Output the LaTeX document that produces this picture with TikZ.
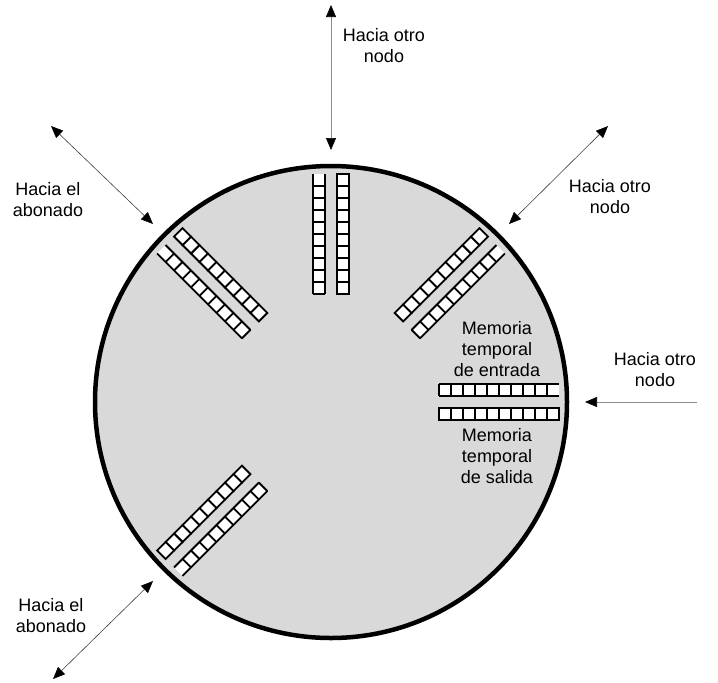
\documentclass[tikz,border=0pt]{standalone}
\usepackage{fontspec}
\setmainfont{Liberation Sans}
\usetikzlibrary{arrows.meta}

% a pair of buffers on a radius of the exchange, outer end towards the rim
% #1 angle, #2 side of the open row (1 or -1)
\newcommand\bufpair[2]{%
  \begin{scope}[shift={(exchange.center)},rotate=#1]
    \foreach \k in {0,...,9}
      \draw[cellbox] (108+12*\k,{12*(-#2)-6}) rectangle ++(12,12);
    \fill[white] (108,{12*#2-6}) rectangle (228,{12*#2+6});
    \draw[cellline] (108,{12*#2-6}) -- (228,{12*#2-6})
                    (108,{12*#2+6}) -- (228,{12*#2+6});
    \foreach \k in {0,...,9}
      \draw[cellline] (108+12*\k,{12*#2-6}) -- ++(0,12);
  \end{scope}}

\begin{document}
\begin{tikzpicture}[
  x=1pt,y=-1pt,
  cellbox/.style={draw=black,fill=white,line width=1.8pt},
  cellline/.style={draw=black,line width=1.8pt},
  label/.style={align=center,font=\fontsize{18}{21}\selectfont,inner sep=0pt},
  link/.style={{Triangle[length=12pt,width=10pt,color=black]}-{Triangle[length=12pt,width=10pt,color=black]},
    line width=0.6pt,draw=black!75},
  inlink/.style={-{Triangle[length=12pt,width=10pt,color=black]},line width=0.6pt,draw=black!45}
]
  \useasboundingbox (0,0) rectangle (718,683);

  \node[draw=black,line width=4.5pt,fill=gray!30,circle,inner sep=0pt,
    minimum size=472pt] (exchange) at (331,402) {};

  % buffers
  \bufpair{90}{-1}
  \bufpair{45}{1}
  \bufpair{135}{-1}
  \bufpair{0}{-1}
  \bufpair{225}{-1}

  \node[label] (inmem) at (497,349) {Memoria\\temporal\\de entrada};
  \node[label] (outmem) at (497,456) {Memoria\\temporal\\de salida};

  % links to the outside
  \coordinate (topout) at (331,5);
  \coordinate (topin) at (331,150);
  \coordinate (tlout) at (51,126);
  \coordinate (tlin) at (153,224);
  \coordinate (trout) at (608,126);
  \coordinate (trin) at (509,224);
  \coordinate (rout) at (697,402);
  \coordinate (rin) at (585,402);
  \coordinate (blout) at (53,679);
  \coordinate (blin) at (153,581);

  \draw[link,draw=black!45] (topout) -- (topin);
  \draw[link] (tlout) -- (tlin);
  \draw[link] (trout) -- (trin);
  \draw[inlink] (rout) -- (rin);
  \draw[link] (blout) -- (blin);

  \node[label] (toplbl) at (384,46) {Hacia otro\\nodo};
  \node[label] (tllbl) at (48,200) {Hacia el\\abonado};
  \node[label] (trlbl) at (610,197) {Hacia otro\\nodo};
  \node[label] (rlbl) at (655,370) {Hacia otro\\nodo};
  \node[label] (bllbl) at (51,616) {Hacia el\\abonado};
\end{tikzpicture}
\end{document}
